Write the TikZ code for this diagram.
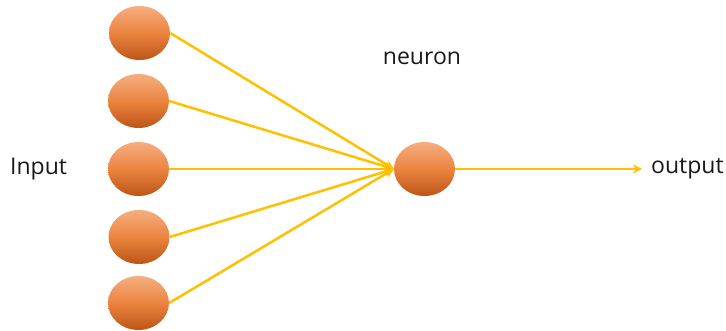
\documentclass[tikz,border=0pt]{standalone}
\usepackage{fontspec}
\setmainfont{Open Sans}
\usetikzlibrary{arrows.meta,shapes.geometric}
\definecolor{ballTop}{HTML}{F5AE80}
\definecolor{ballMid}{HTML}{EC8440}
\definecolor{ballBot}{HTML}{BC5516}
\definecolor{wire}{HTML}{FFC000}
\tikzset{
  ball/.style={ellipse, minimum width=61pt, minimum height=54pt, inner sep=0pt,
    top color=ballTop, bottom color=ballBot, middle color=ballMid, draw=none},
  wireline/.style={draw=wire, line width=2.5pt, -{Stealth[length=9pt,width=9pt]}},
  lbl/.style={font=\fontsize{23}{27}\selectfont, text=black!90, inner sep=0pt}
}
\begin{document}
\begin{tikzpicture}[x=1pt,y=-1pt]
\useasboundingbox (0,0) rectangle (726,331);
\node[ball] (i1) at (139.5,33) {};
\node[ball] (i2) at (138.5,101) {};
\node[ball] (i3) at (138.5,169) {};
\node[ball] (i4) at (139,237) {};
\node[ball] (i5) at (138.5,303) {};
\node[ball] (n) at (424.5,169) {};
\foreach \i in {1,...,5} \draw[wireline] (i\i.east) -- (n.west);
\coordinate (o) at (642,169);
\draw[wireline] (n.east) -- (o);
\node[lbl, anchor=west] (inp) at (10,169) {Input};
\node[lbl, anchor=west] (out) at (651,169) {output};
\node[lbl] (neu) at (422,58) {neuron};
\end{tikzpicture}
\end{document}
